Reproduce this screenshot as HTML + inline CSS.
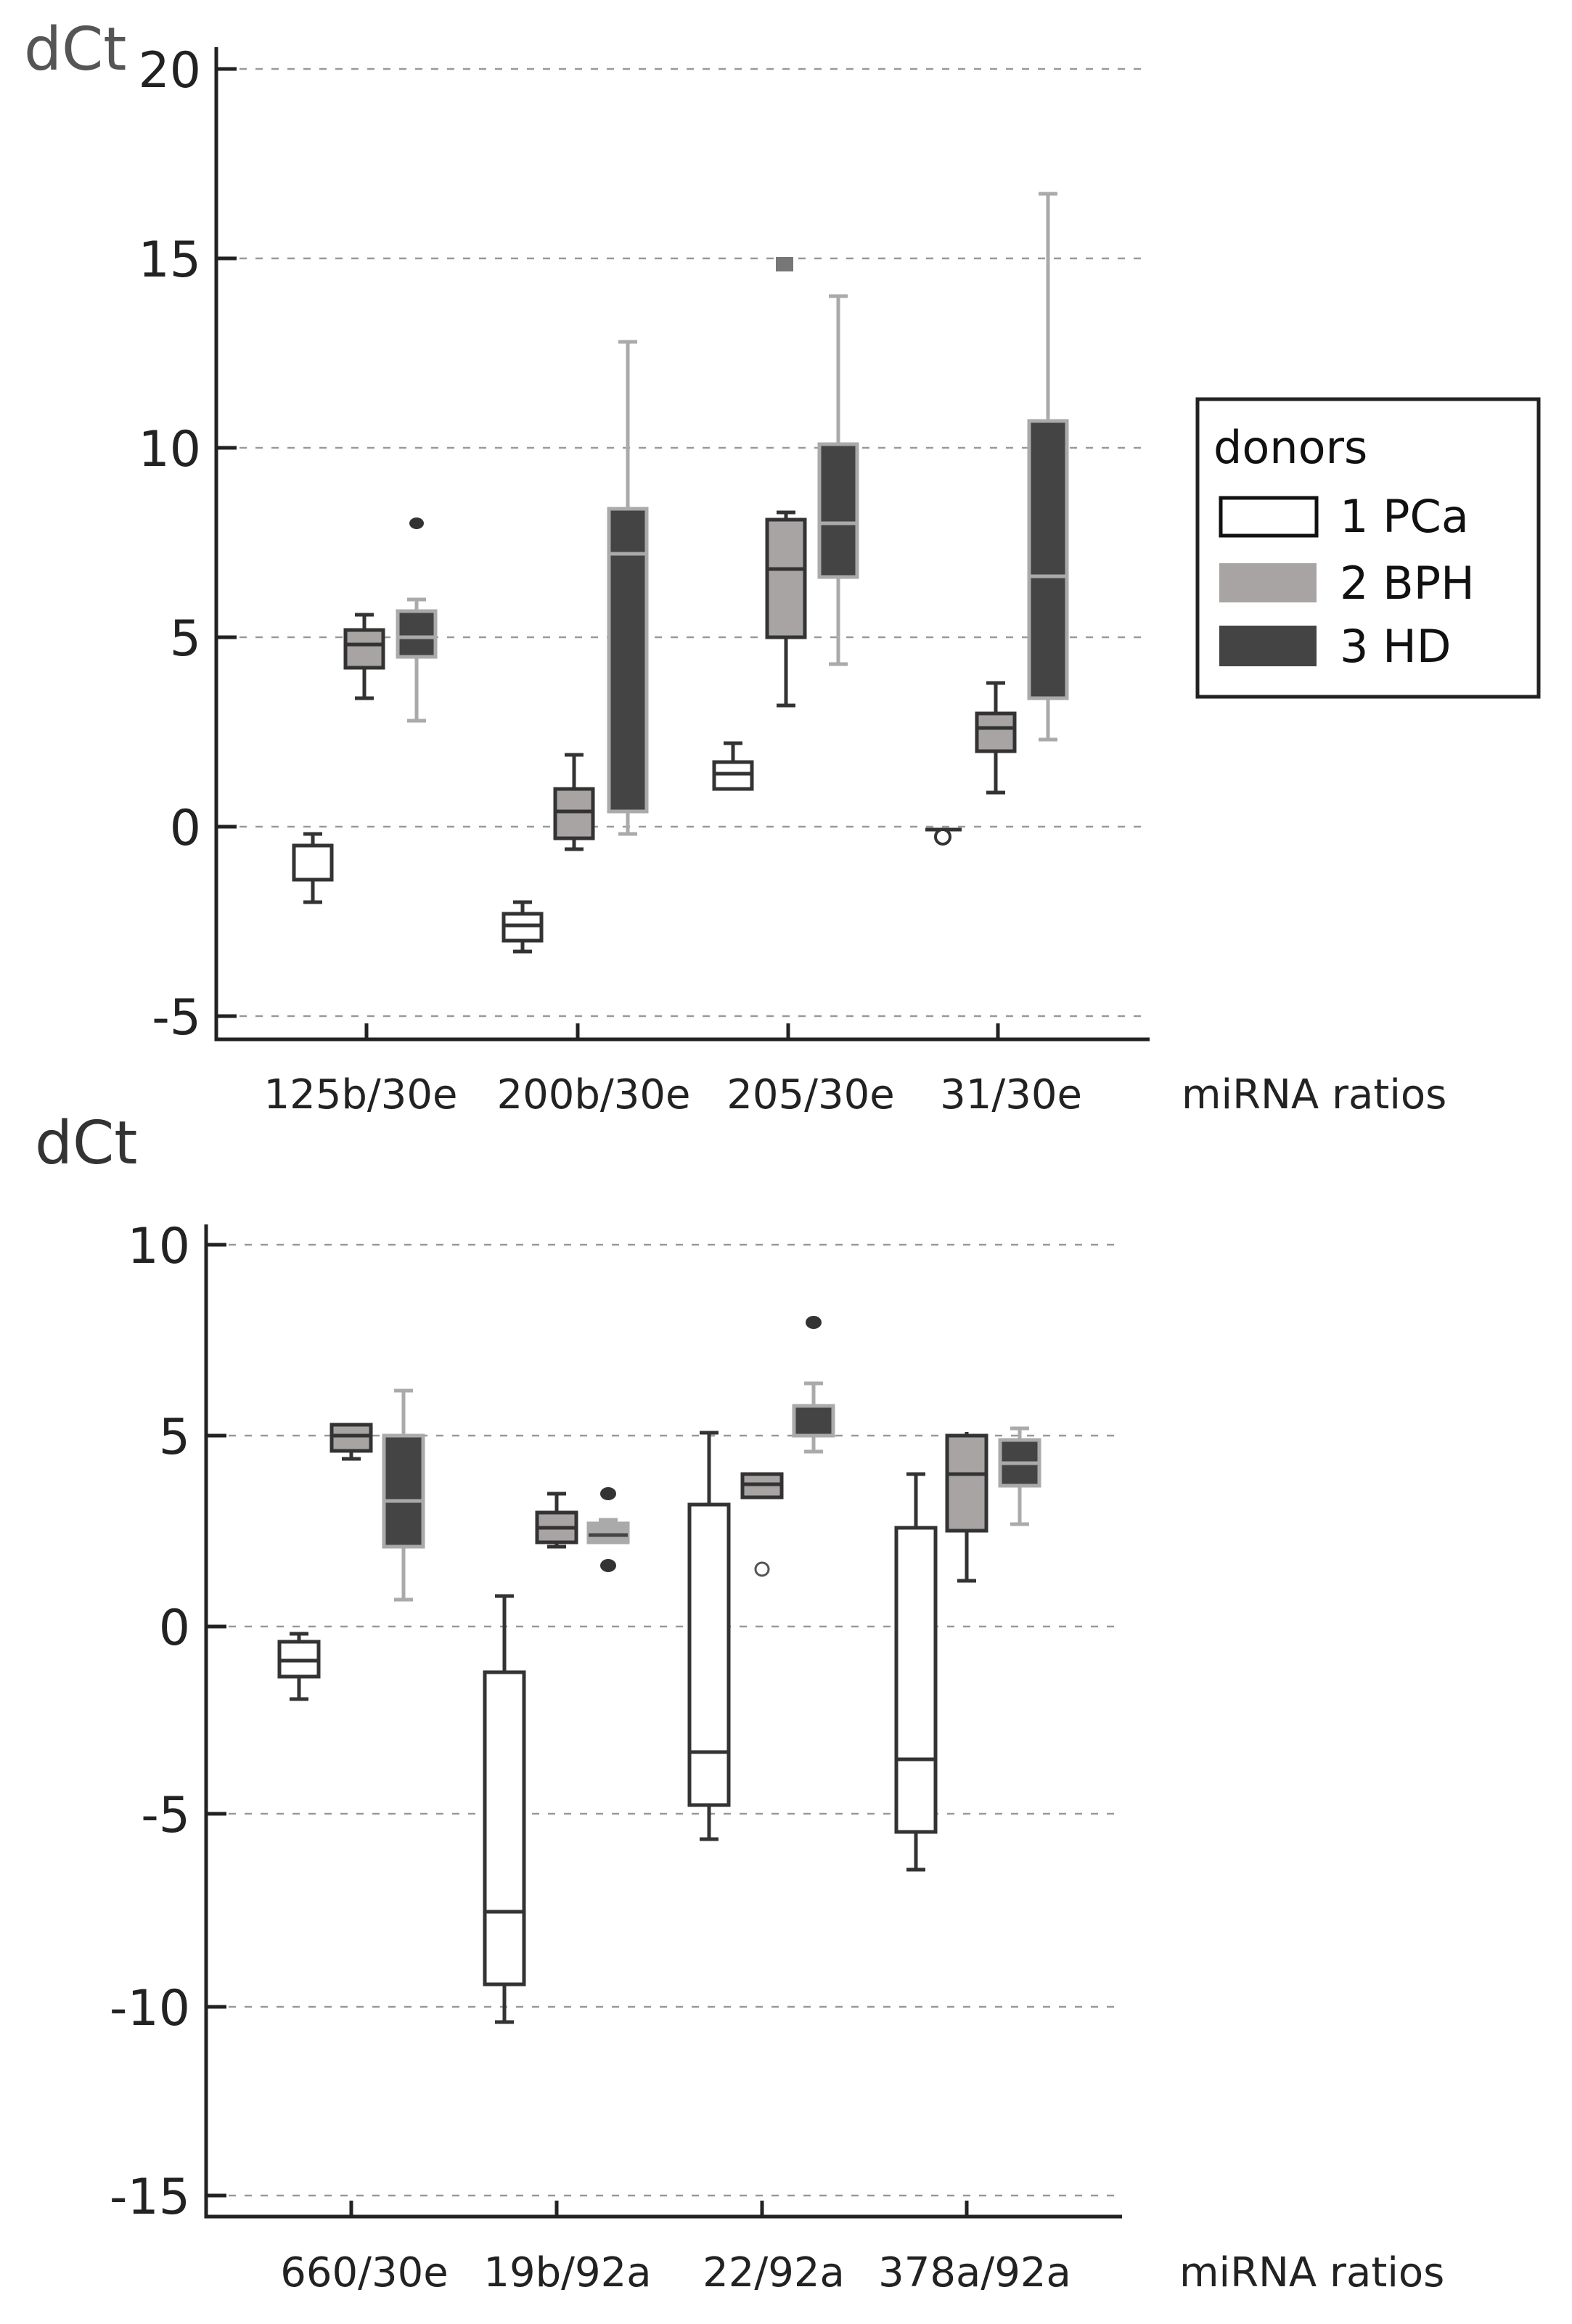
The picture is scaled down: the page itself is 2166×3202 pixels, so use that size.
<!DOCTYPE html>
<html><head><meta charset="utf-8"><style>
html,body{margin:0;padding:0;background:#fff;}
svg{display:block;}
text{font-family:"DejaVu Sans","Liberation Sans",sans-serif;}
</style></head><body>
<svg width="2166" height="3202" viewBox="0 0 2166 3202" xmlns="http://www.w3.org/2000/svg">
<g stroke="#999" stroke-width="2.5" stroke-dasharray="10,12">
<line x1="330" y1="95" x2="1584" y2="95"/>
<line x1="330" y1="356" x2="1584" y2="356"/>
<line x1="330" y1="617" x2="1584" y2="617"/>
<line x1="330" y1="878" x2="1584" y2="878"/>
<line x1="330" y1="1139" x2="1584" y2="1139"/>
<line x1="330" y1="1400" x2="1584" y2="1400"/>
<line x1="315" y1="1715" x2="1546" y2="1715"/>
<line x1="315" y1="1978" x2="1546" y2="1978"/>
<line x1="315" y1="2241" x2="1546" y2="2241"/>
<line x1="315" y1="2499" x2="1546" y2="2499"/>
<line x1="315" y1="2765" x2="1546" y2="2765"/>
<line x1="315" y1="3025" x2="1546" y2="3025"/>
</g>
<g stroke="#222" stroke-width="5" fill="none">
<polyline points="298,65 298,1432 1584,1432"/>
<line x1="298" y1="95" x2="326" y2="95"/><line x1="298" y1="356" x2="326" y2="356"/><line x1="298" y1="617" x2="326" y2="617"/><line x1="298" y1="878" x2="326" y2="878"/><line x1="298" y1="1139" x2="326" y2="1139"/><line x1="298" y1="1400" x2="326" y2="1400"/>
<line x1="505" y1="1432" x2="505" y2="1410"/><line x1="796" y1="1432" x2="796" y2="1410"/><line x1="1086" y1="1432" x2="1086" y2="1410"/><line x1="1375" y1="1432" x2="1375" y2="1410"/>
<polyline points="284,1687 284,3054 1546,3054"/>
<line x1="284" y1="1715" x2="312" y2="1715"/><line x1="284" y1="1978" x2="312" y2="1978"/><line x1="284" y1="2241" x2="312" y2="2241"/><line x1="284" y1="2499" x2="312" y2="2499"/><line x1="284" y1="2765" x2="312" y2="2765"/><line x1="284" y1="3025" x2="312" y2="3025"/>
<line x1="484" y1="3054" x2="484" y2="3032"/><line x1="767" y1="3054" x2="767" y2="3032"/><line x1="1050" y1="3054" x2="1050" y2="3032"/><line x1="1332" y1="3054" x2="1332" y2="3032"/>
</g>
<g font-size="68" fill="#222" text-anchor="end">
<text x="277" y="120">20</text><text x="277" y="381">15</text><text x="277" y="642">10</text><text x="277" y="903">5</text><text x="277" y="1164">0</text><text x="277" y="1425">-5</text>
<text x="262" y="1740">10</text><text x="262" y="2003">5</text><text x="262" y="2266">0</text><text x="262" y="2524">-5</text><text x="262" y="2790">-10</text><text x="262" y="3050">-15</text>
</g>
<text x="33" y="96" font-size="82" fill="#555">dCt</text>
<text x="48" y="1603" font-size="82" fill="#333">dCt</text>
<g font-size="56" fill="#222" text-anchor="middle">
<text x="497" y="1527">125b/30e</text><text x="818" y="1527">200b/30e</text><text x="1117" y="1527">205/30e</text><text x="1393" y="1527">31/30e</text>
<text x="502" y="3150">660/30e</text><text x="782" y="3150">19b/92a</text><text x="1066" y="3150">22/92a</text><text x="1343" y="3150">378a/92a</text>
</g>
<text x="1628" y="1527" font-size="56" fill="#222">miRNA ratios</text>
<text x="1625" y="3150" font-size="56" fill="#222">miRNA ratios</text>
<rect x="1650" y="550" width="470" height="410" fill="none" stroke="#222" stroke-width="5"/>
<text x="1672" y="638" font-size="62" fill="#111">donors</text>
<rect x="1682" y="686" width="132" height="52" fill="#fff" stroke="#111" stroke-width="5"/>
<rect x="1680" y="776" width="134" height="54" fill="#a8a4a4"/>
<rect x="1680" y="862" width="134" height="56" fill="#444"/>
<g font-size="62" fill="#111"><text x="1846" y="733">1 PCa</text><text x="1846" y="825">2 BPH</text><text x="1846" y="912">3 HD</text></g>

<!-- top chart boxes: y(v)=1139-52.2v -->
<g stroke-width="5">
<!-- 125b -->
<g stroke="#333" fill="#fff"><line x1="431" y1="1149" x2="431" y2="1243"/><line x1="418" y1="1149" x2="444" y2="1149"/><line x1="418" y1="1243" x2="444" y2="1243"/><rect x="405" y="1165" width="52" height="47"/></g>
<g stroke="#333"><line x1="502" y1="847" x2="502" y2="962"/><line x1="489" y1="847" x2="515" y2="847"/><line x1="489" y1="962" x2="515" y2="962"/><rect x="476" y="868" width="52" height="52" fill="#a8a4a4"/><line x1="476" y1="888" x2="528" y2="888"/></g>
<g stroke="#aaa"><line x1="574" y1="826" x2="574" y2="993"/><line x1="561" y1="826" x2="587" y2="826"/><line x1="561" y1="993" x2="587" y2="993"/><rect x="548" y="842" width="52" height="63" fill="#444"/><line x1="548" y1="878" x2="600" y2="878"/></g>
<ellipse cx="574" cy="721" rx="10" ry="8" fill="#333"/>
<!-- 200b -->
<g stroke="#333" fill="#fff"><line x1="720" y1="1243" x2="720" y2="1311"/><line x1="707" y1="1243" x2="733" y2="1243"/><line x1="707" y1="1311" x2="733" y2="1311"/><rect x="694" y="1259" width="52" height="37"/><line x1="694" y1="1275" x2="746" y2="1275"/></g>
<g stroke="#333"><line x1="791" y1="1040" x2="791" y2="1170"/><line x1="778" y1="1040" x2="804" y2="1040"/><line x1="778" y1="1170" x2="804" y2="1170"/><rect x="765" y="1087" width="52" height="68" fill="#a8a4a4"/><line x1="765" y1="1118" x2="817" y2="1118"/></g>
<g stroke="#aaa"><line x1="865" y1="471" x2="865" y2="1149"/><line x1="852" y1="471" x2="878" y2="471"/><line x1="852" y1="1149" x2="878" y2="1149"/><rect x="839" y="701" width="52" height="417" fill="#444"/><line x1="839" y1="763" x2="891" y2="763"/></g>
<!-- 205 -->
<g stroke="#333" fill="#fff"><line x1="1010" y1="1024" x2="1010" y2="1087"/><line x1="997" y1="1024" x2="1023" y2="1024"/><line x1="997" y1="1087" x2="1023" y2="1087"/><rect x="984" y="1050" width="52" height="37"/><line x1="984" y1="1066" x2="1036" y2="1066"/></g>
<g stroke="#333"><line x1="1083" y1="706" x2="1083" y2="972"/><line x1="1070" y1="706" x2="1096" y2="706"/><line x1="1070" y1="972" x2="1096" y2="972"/><rect x="1057" y="716" width="52" height="162" fill="#a8a4a4"/><line x1="1057" y1="784" x2="1109" y2="784"/></g>
<rect x="1069" y="354" width="24" height="20" fill="#777"/>
<g stroke="#aaa"><line x1="1155" y1="408" x2="1155" y2="915"/><line x1="1142" y1="408" x2="1168" y2="408"/><line x1="1142" y1="915" x2="1168" y2="915"/><rect x="1129" y="612" width="52" height="183" fill="#444"/><line x1="1129" y1="721" x2="1181" y2="721"/></g>
<!-- 31 -->
<g stroke="#333"><line x1="1275" y1="1143" x2="1325" y2="1143"/></g>
<circle cx="1299" cy="1153" r="10" fill="#fff" stroke="#333" stroke-width="4"/>
<g stroke="#333"><line x1="1372" y1="941" x2="1372" y2="1092"/><line x1="1359" y1="941" x2="1385" y2="941"/><line x1="1359" y1="1092" x2="1385" y2="1092"/><rect x="1346" y="983" width="52" height="52" fill="#a8a4a4"/><line x1="1346" y1="1003" x2="1398" y2="1003"/></g>
<g stroke="#aaa"><line x1="1444" y1="267" x2="1444" y2="1019"/><line x1="1431" y1="267" x2="1457" y2="267"/><line x1="1431" y1="1019" x2="1457" y2="1019"/><rect x="1418" y="580" width="52" height="382" fill="#444"/><line x1="1418" y1="794" x2="1470" y2="794"/></g>
</g>

<!-- bottom chart: y(v)=2241-52.4v -->
<g stroke-width="5">
<g stroke="#333" fill="#fff"><line x1="412" y1="2251" x2="412" y2="2341"/><line x1="399" y1="2251" x2="425" y2="2251"/><line x1="399" y1="2341" x2="425" y2="2341"/><rect x="385" y="2262" width="54" height="48"/><line x1="385" y1="2288" x2="439" y2="2288"/></g>
<g stroke="#333"><line x1="484" y1="1963" x2="484" y2="2010"/><line x1="471" y1="1963" x2="497" y2="1963"/><line x1="471" y1="2010" x2="497" y2="2010"/><rect x="457" y="1963" width="54" height="36" fill="#a8a4a4"/><line x1="457" y1="1978" x2="511" y2="1978"/></g>
<g stroke="#aaa"><line x1="556" y1="1916" x2="556" y2="2204"/><line x1="543" y1="1916" x2="569" y2="1916"/><line x1="543" y1="2204" x2="569" y2="2204"/><rect x="529" y="1978" width="54" height="153" fill="#444"/><line x1="529" y1="2068" x2="583" y2="2068"/></g>
<!-- 19b -->
<g stroke="#333" fill="#fff"><line x1="695" y1="2199" x2="695" y2="2786"/><line x1="682" y1="2199" x2="708" y2="2199"/><line x1="682" y1="2786" x2="708" y2="2786"/><rect x="668" y="2304" width="54" height="430"/><line x1="668" y1="2634" x2="722" y2="2634"/></g>
<g stroke="#333"><line x1="767" y1="2058" x2="767" y2="2131"/><line x1="754" y1="2058" x2="780" y2="2058"/><line x1="754" y1="2131" x2="780" y2="2131"/><rect x="740" y="2084" width="54" height="41" fill="#a8a4a4"/><line x1="740" y1="2105" x2="794" y2="2105"/></g>
<g stroke="#aaa"><line x1="838" y1="2094" x2="838" y2="2115"/><line x1="825" y1="2094" x2="851" y2="2094"/><rect x="811" y="2099" width="54" height="26" fill="#aaa"/><line x1="811" y1="2115" x2="865" y2="2115" stroke="#444"/></g>
<ellipse cx="838" cy="2058" rx="11" ry="9" fill="#333"/><ellipse cx="838" cy="2157" rx="11" ry="9" fill="#333"/>
<!-- 22 -->
<g stroke="#333" fill="#fff"><line x1="977" y1="1974" x2="977" y2="2534"/><line x1="964" y1="1974" x2="990" y2="1974"/><line x1="964" y1="2534" x2="990" y2="2534"/><rect x="950" y="2073" width="54" height="414"/><line x1="950" y1="2414" x2="1004" y2="2414"/></g>
<g stroke="#333"><line x1="1037" y1="2063" x2="1063" y2="2063"/><rect x="1023" y="2031" width="54" height="32" fill="#a8a4a4"/><line x1="1023" y1="2045" x2="1077" y2="2045"/></g>
<circle cx="1050" cy="2162" r="9" fill="#fff" stroke="#555" stroke-width="3"/>
<g stroke="#aaa"><line x1="1121" y1="1906" x2="1121" y2="2000"/><line x1="1108" y1="1906" x2="1134" y2="1906"/><line x1="1108" y1="2000" x2="1134" y2="2000"/><rect x="1094" y="1937" width="54" height="41" fill="#444"/></g>
<ellipse cx="1121" cy="1822" rx="11" ry="9" fill="#333"/>
<!-- 378a -->
<g stroke="#333" fill="#fff"><line x1="1262" y1="2031" x2="1262" y2="2576"/><line x1="1249" y1="2031" x2="1275" y2="2031"/><line x1="1249" y1="2576" x2="1275" y2="2576"/><rect x="1235" y="2105" width="54" height="419"/><line x1="1235" y1="2424" x2="1289" y2="2424"/></g>
<g stroke="#333"><line x1="1332" y1="1973" x2="1332" y2="2178"/><line x1="1319" y1="2178" x2="1345" y2="2178"/><rect x="1305" y="1978" width="54" height="131" fill="#a8a4a4"/><line x1="1305" y1="2031" x2="1359" y2="2031"/></g>
<g stroke="#aaa"><line x1="1405" y1="1968" x2="1405" y2="2100"/><line x1="1392" y1="1968" x2="1418" y2="1968"/><line x1="1392" y1="2100" x2="1418" y2="2100"/><rect x="1378" y="1984" width="54" height="63" fill="#444"/><line x1="1378" y1="2016" x2="1432" y2="2016"/></g>
</g>
</svg>
</body></html>
